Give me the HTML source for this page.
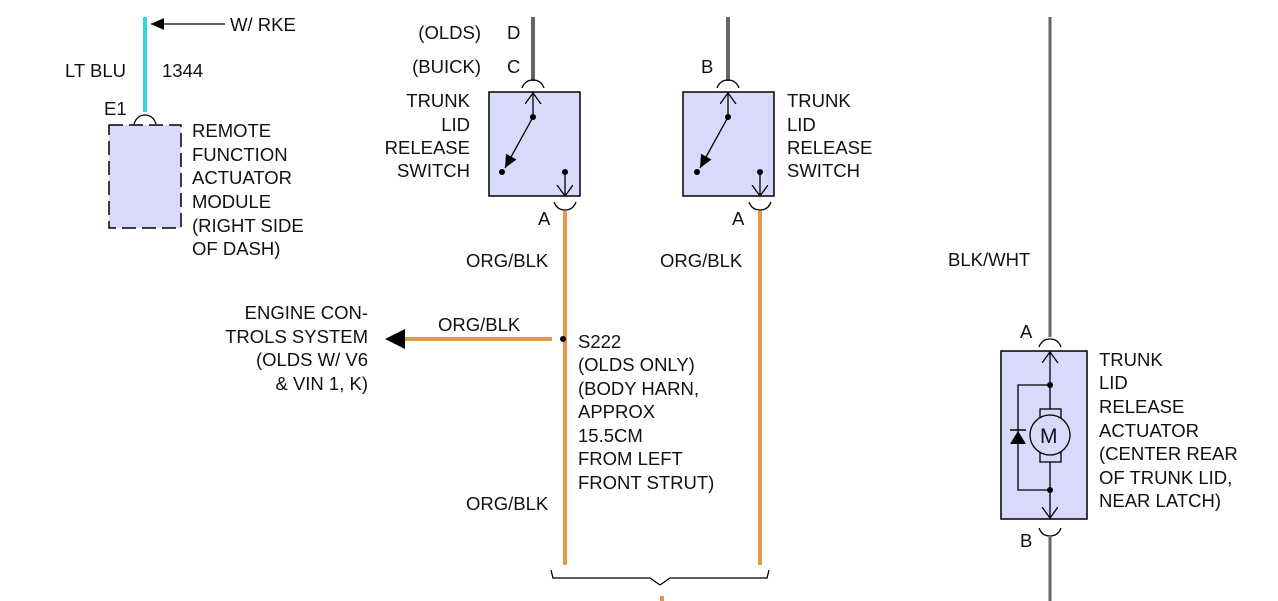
<!DOCTYPE html>
<html><head><style>
html,body{margin:0;padding:0;background:#fff;}
svg{display:block;}
text{font-family:"Liberation Sans",Arial,sans-serif;font-size:18.5px;fill:#111;}
.e{text-anchor:end;}
</style></head><body>
<svg width="1278" height="601" viewBox="0 0 1278 601" xmlns="http://www.w3.org/2000/svg">
<defs>
<marker id="ah" markerWidth="20" markerHeight="20" refX="11" refY="8" orient="auto" markerUnits="userSpaceOnUse">
<path d="M0,0 L11,8 L0,16" fill="none" stroke="#000" stroke-width="1.3"/></marker>
<marker id="af" markerWidth="16" markerHeight="14" refX="13" refY="6" orient="auto" markerUnits="userSpaceOnUse">
<path d="M0,0 L13,6 L0,12 Z" fill="#000"/></marker>
</defs>
<!-- left module -->
<line x1="145" y1="17" x2="145" y2="112" stroke="#2fd6e0" stroke-width="4"/>
<line x1="225" y1="24" x2="151" y2="24" stroke="#000" stroke-width="1.3" marker-end="url(#af)"/>
<text x="230" y="31">W/ RKE</text>
<text x="65" y="77">LT BLU</text>
<text x="162" y="77">1344</text>
<text x="104" y="115">E1</text>
<path d="M134,124 Q137,115 145,115 Q153,115 156,124" fill="none" stroke="#000" stroke-width="1.3"/>
<rect x="109" y="125" width="72" height="103" fill="#d9d9fb" stroke="#000" stroke-width="1.5" stroke-dasharray="14,6"/>
<text x="192" y="137">REMOTE</text><text x="192" y="161">FUNCTION</text><text x="192" y="184">ACTUATOR</text>
<text x="192" y="208">MODULE</text><text x="192" y="232">(RIGHT SIDE</text><text x="192" y="255">OF DASH)</text>
<!-- switch 1 -->
<line x1="533" y1="17" x2="533" y2="81" stroke="#666" stroke-width="4"/>
<path d="M522,88 Q525,80 533,80 Q541,80 544,88" fill="none" stroke="#000" stroke-width="1.3"/>
<text x="481" y="39" class="e">(OLDS)</text><text x="507" y="39">D</text>
<text x="481" y="73" class="e">(BUICK)</text><text x="507" y="73">C</text>
<rect x="489" y="92" width="91" height="104" fill="#d9d9fb" stroke="#000" stroke-width="1.5"/>
<line x1="533" y1="117" x2="533" y2="93" stroke="#000" stroke-width="1.3" marker-end="url(#ah)"/>
<circle cx="533" cy="117" r="3" fill="#000"/>
<line x1="533" y1="117" x2="505" y2="168" stroke="#000" stroke-width="1.3" marker-end="url(#af)"/>
<circle cx="502" cy="172" r="3" fill="#000"/>
<circle cx="565" cy="172" r="3" fill="#000"/>
<line x1="565" y1="172" x2="565" y2="196" stroke="#000" stroke-width="1.3" marker-end="url(#ah)"/>
<path d="M554,202 Q557,210 565,210 Q573,210 576,202" fill="none" stroke="#000" stroke-width="1.3"/>
<text x="470" y="107" class="e">TRUNK</text><text x="470" y="131" class="e">LID</text><text x="470" y="154" class="e">RELEASE</text><text x="470" y="177" class="e">SWITCH</text>
<text x="538" y="225">A</text>
<line x1="565" y1="211" x2="565" y2="565" stroke="#e09a4a" stroke-width="4"/>
<!-- switch 2 -->
<line x1="728" y1="17" x2="728" y2="81" stroke="#666" stroke-width="4"/>
<path d="M717,88 Q720,80 728,80 Q736,80 739,88" fill="none" stroke="#000" stroke-width="1.3"/>
<text x="701" y="73">B</text>
<rect x="683" y="92" width="91" height="104" fill="#d9d9fb" stroke="#000" stroke-width="1.5"/>
<line x1="728" y1="117" x2="728" y2="93" stroke="#000" stroke-width="1.3" marker-end="url(#ah)"/>
<circle cx="728" cy="117" r="3" fill="#000"/>
<line x1="728" y1="117" x2="700" y2="168" stroke="#000" stroke-width="1.3" marker-end="url(#af)"/>
<circle cx="697" cy="172" r="3" fill="#000"/>
<circle cx="760" cy="172" r="3" fill="#000"/>
<line x1="760" y1="172" x2="760" y2="196" stroke="#000" stroke-width="1.3" marker-end="url(#ah)"/>
<path d="M749,202 Q752,210 760,210 Q768,210 771,202" fill="none" stroke="#000" stroke-width="1.3"/>
<text x="787" y="107">TRUNK</text><text x="787" y="131">LID</text><text x="787" y="154">RELEASE</text><text x="787" y="177">SWITCH</text>
<text x="732" y="225">A</text>
<line x1="760" y1="211" x2="760" y2="565" stroke="#e09a4a" stroke-width="4"/>
<!-- labels -->
<text x="466" y="267">ORG/BLK</text><text x="660" y="267">ORG/BLK</text>
<text x="466" y="510">ORG/BLK</text>
<text x="438" y="331">ORG/BLK</text>
<line x1="403" y1="339" x2="552" y2="339" stroke="#e09a4a" stroke-width="4"/>
<path d="M385,339 L405,329 L405,349 Z" fill="#000"/>
<circle cx="563" cy="339" r="3" fill="#000"/>
<text x="368" y="319" class="e">ENGINE CON-</text><text x="368" y="343" class="e">TROLS SYSTEM</text>
<text x="368" y="366" class="e">(OLDS W/ V6</text><text x="368" y="390" class="e">&amp; VIN 1, K)</text>
<text x="578" y="348">S222</text><text x="578" y="371">(OLDS ONLY)</text><text x="578" y="395">(BODY HARN,</text>
<text x="578" y="418">APPROX</text><text x="578" y="442">15.5CM</text><text x="578" y="465">FROM LEFT</text><text x="578" y="489">FRONT STRUT)</text>
<path d="M551,570 L553,578 L650,578 L660,585 L670,578 L767,578 L769,570" fill="none" stroke="#000" stroke-width="1.3"/>
<line x1="662" y1="596" x2="662" y2="601" stroke="#e09a4a" stroke-width="4"/>
<!-- right actuator -->
<line x1="1050" y1="17" x2="1050" y2="337" stroke="#666" stroke-width="3"/>
<text x="948" y="266">BLK/WHT</text>
<text x="1020" y="338">A</text>
<path d="M1039,347 Q1042,339 1050,339 Q1058,339 1061,347" fill="none" stroke="#000" stroke-width="1.3"/>
<rect x="1001" y="351" width="86" height="168" fill="#d9d9fb" stroke="#000" stroke-width="1.5"/>
<line x1="1050" y1="383" x2="1050" y2="352" stroke="#000" stroke-width="1.3" marker-end="url(#ah)"/>
<line x1="1050" y1="383" x2="1050" y2="409" stroke="#000" stroke-width="1.3"/>
<line x1="1050" y1="462" x2="1050" y2="490" stroke="#000" stroke-width="1.3"/>
<line x1="1050" y1="490" x2="1050" y2="518" stroke="#000" stroke-width="1.3" marker-end="url(#ah)"/>
<polyline points="1050,385 1018,385 1018,490 1050,490" fill="none" stroke="#000" stroke-width="1.3"/>
<circle cx="1050" cy="385" r="3" fill="#000"/><circle cx="1050" cy="490" r="3" fill="#000"/>
<rect x="1040" y="409" width="21" height="53" fill="#d9d9fb" stroke="#000" stroke-width="1.3"/>
<circle cx="1050" cy="435" r="20" fill="#d9d9fb" stroke="#000" stroke-width="1.3"/>
<text x="1040" y="443" style="font-size:21px">M</text>
<path d="M1010,444 L1026,444 L1018,431 Z" fill="#000"/>
<line x1="1010" y1="430" x2="1026" y2="430" stroke="#000" stroke-width="1.5"/>
<path d="M1039,528 Q1042,536 1050,536 Q1058,536 1061,528" fill="none" stroke="#000" stroke-width="1.3"/>
<line x1="1050" y1="536" x2="1050" y2="601" stroke="#666" stroke-width="3"/>
<text x="1020" y="547">B</text>
<text x="1099" y="366">TRUNK</text><text x="1099" y="389">LID</text><text x="1099" y="413">RELEASE</text>
<text x="1099" y="437">ACTUATOR</text><text x="1099" y="460">(CENTER REAR</text><text x="1099" y="484">OF TRUNK LID,</text><text x="1099" y="507">NEAR LATCH)</text>
</svg>
</body></html>
